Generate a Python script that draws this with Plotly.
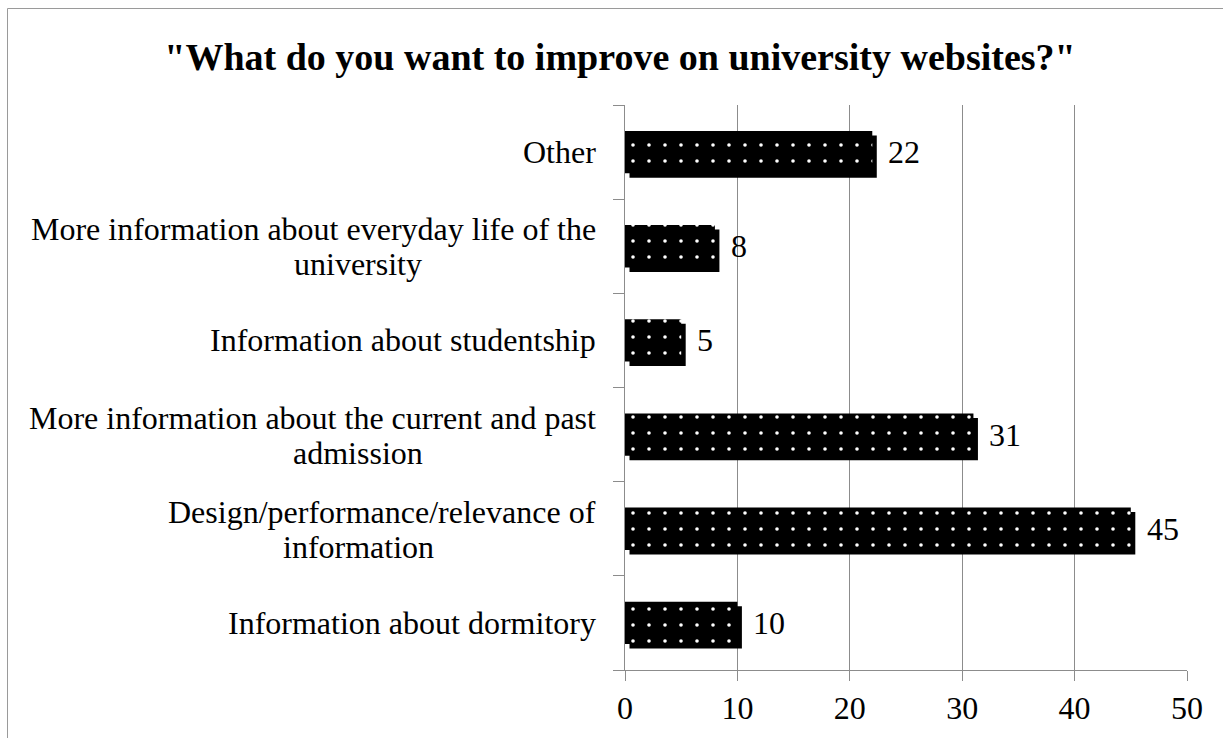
import plotly.graph_objects as go

# Survey answers, listed bottom-to-top as they appear on the category axis
categories = [
    "Information about dormitory",
    "Design/performance/relevance of information",
    "More information about the current and past admission",
    "Information about studentship",
    "More information about everyday life of the university",
    "Other",
]
# Label text split into display lines (first line right-aligned, second centred)
label_lines = [
    ["Information about dormitory"],
    ["Design/performance/relevance of", "information"],
    ["More information about the current and past", "admission"],
    ["Information about studentship"],
    ["More information about everyday life of the", "university"],
    ["Other"],
]
counts = [10, 45, 31, 5, 8, 22]
x_ticks = [0, 10, 20, 30, 40, 50]

W, H = 1223, 738
L, R, T, B = 625, 36, 105, 68
PW, PH = W - L - R, H - T - B
X_MAX = 50
N = len(categories)

SERIF = "Liberation Serif, Times New Roman, serif"
GRID = "#8c8c8c"
FS = 32

# drop shadow offset in pixels, converted into axis units
SHADOW_PX = 4.5
dx = SHADOW_PX * X_MAX / PW
dy = SHADOW_PX * N / PH

fig = go.Figure()

# invisible markers so the base axes know the categories (ticks, labels)
fig.add_trace(go.Scatter(
    y=categories, x=counts, mode="markers",
    marker=dict(opacity=0, size=1), hoverinfo="skip",
))

# shadow behind each bar, drawn on a slightly shifted overlay axis pair
fig.add_trace(go.Bar(
    y=categories, x=counts, orientation="h", width=0.45,
    marker=dict(color="black", line=dict(width=0)),
    xaxis="x2", yaxis="y2", hoverinfo="skip",
))

# dotted bars on top, on an unshifted overlay pair so they sit above the shadow
fig.add_trace(go.Bar(
    y=categories, x=counts, orientation="h", width=0.45,
    marker=dict(
        color="black",
        line=dict(color="black", width=0),
        pattern=dict(shape=".", fgcolor="white", bgcolor="black",
                     fgopacity=1, size=16, solidity=0.04, fillmode="overlay"),
    ),
    xaxis="x3", yaxis="y3", hoverinfo="skip",
))


def px_x(p):
    return (p - L) / PW


def px_y(p):
    return (H - B - p) / PH


annotations = []
for cat, lines in zip(categories, label_lines):
    if len(lines) == 1:
        annotations.append(dict(
            x=px_x(598), xref="paper", y=cat, yref="y", text=lines[0],
            xanchor="right", yanchor="middle", showarrow=False,
            font=dict(family=SERIF, size=FS, color="black")))
    else:
        annotations.append(dict(
            x=px_x(598), xref="paper", y=cat, yref="y", yshift=17, text=lines[0],
            xanchor="right", yanchor="middle", showarrow=False,
            font=dict(family=SERIF, size=FS, color="black")))
        annotations.append(dict(
            x=px_x(358), xref="paper", y=cat, yref="y", yshift=-18, text=lines[1],
            xanchor="center", yanchor="middle", showarrow=False,
            font=dict(family=SERIF, size=FS, color="black")))

# value labels just past the end of each bar
for cat, v in zip(categories, counts):
    annotations.append(dict(
        x=v, xref="x", y=cat, yref="y", text=str(v),
        xanchor="left", yanchor="middle", xshift=14, showarrow=False,
        font=dict(family=SERIF, size=FS, color="black")))

cat_axis = dict(categoryorder="array", categoryarray=categories, visible=False)

fig.update_layout(
    width=W, height=H,
    margin=dict(l=L, r=R, t=T, b=B),
    paper_bgcolor="white",
    plot_bgcolor="white",
    showlegend=False,
    barmode="overlay",
    title=dict(
        text='"What do you want to improve on university websites?"',
        x=620 / W, xanchor="center",
        y=1 - 57 / H, yanchor="middle",
        font=dict(family=SERIF, size=38, color="black", weight="bold"),
    ),
    xaxis=dict(
        range=[0, X_MAX], tickvals=x_ticks, ticktext=[str(v) for v in x_ticks],
        showgrid=True, gridcolor=GRID, gridwidth=1,
        showline=True, linecolor=GRID, linewidth=1,
        ticks="outside", ticklen=10, tickcolor=GRID,
        zeroline=False,
        tickfont=dict(family=SERIF, size=FS, color="black"),
    ),
    yaxis=dict(
        categoryorder="array", categoryarray=categories,
        range=[-0.5, N - 0.5],
        showticklabels=False,
        showline=True, linecolor=GRID, linewidth=1,
        ticks="outside", ticklen=11, tickcolor=GRID, tickson="boundaries",
        showgrid=False, zeroline=False,
    ),
    xaxis2=dict(overlaying="x", range=[-dx, X_MAX - dx], visible=False),
    yaxis2=dict(overlaying="y", range=[-0.5 + dy, N - 0.5 + dy], **cat_axis),
    xaxis3=dict(overlaying="x", range=[0, X_MAX], visible=False),
    yaxis3=dict(overlaying="y", range=[-0.5, N - 0.5], **cat_axis),
    annotations=annotations,
    shapes=[
        dict(type="rect", xref="paper", yref="paper",
             x0=px_x(7.5), x1=px_x(W + 10), y0=px_y(H + 10), y1=px_y(8.5),
             line=dict(color="#9a9a9a", width=1), fillcolor="rgba(0,0,0,0)",
             layer="below"),
    ],
)

fig.write_html("out.html")
